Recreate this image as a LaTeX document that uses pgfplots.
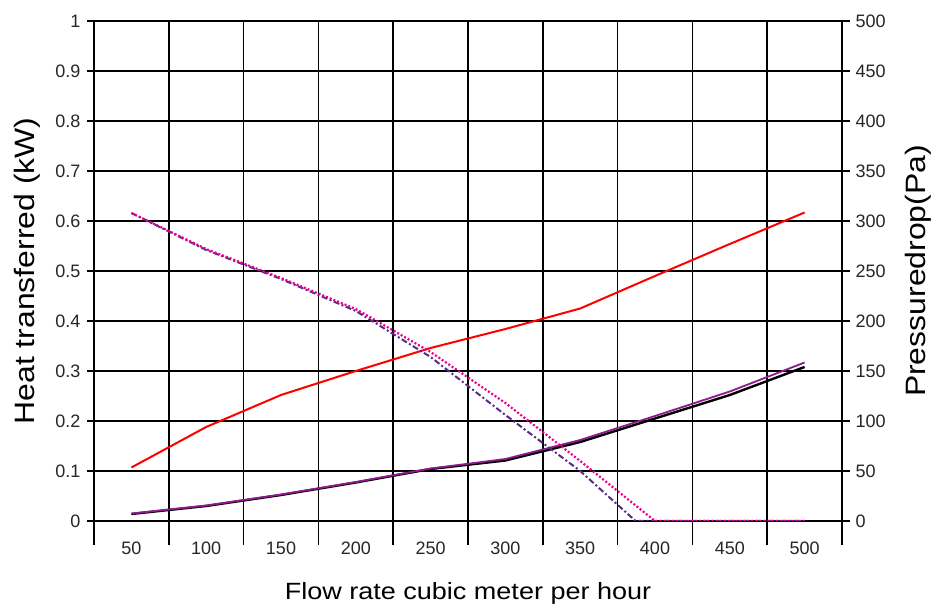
\documentclass[border=0pt]{standalone}
\usepackage{pgfplots}
\pgfplotsset{compat=1.18}
\usepackage{fontspec}
\setmainfont{Liberation Sans}
\definecolor{dashpurple}{HTML}{5B2A86}
\definecolor{solidpurple}{HTML}{8E1A8E}
\begin{document}
\begin{tikzpicture}[x=1pt,y=1pt]
\useasboundingbox (0,0) rectangle (936,609);
\pgfplotsset{
  base/.style={
    scale only axis, width=748pt, height=500pt,
    at={(94pt,88pt)}, anchor=south west,
    xmin=25, xmax=525,
    tick align=outside,
    /pgf/number format/assume math mode=true,
    tick label style={font=\fontsize{18}{20}\selectfont, text=black!85},
    every tick/.style={black, line width=1.5pt},
    axis line style={line width=1.6pt},
  }
}
\begin{axis}[base,
  ymin=0, ymax=1,
  ytick={0,0.1,0.2,0.3,0.4,0.5,0.6,0.7,0.8,0.9,1},
  yticklabel style={/pgf/number format/fixed, /pgf/number format/precision=1, xshift=-3pt},
  ytick pos=left, xtick pos=lower,
  major tick length=7pt,
  xtick={25,75,...,525}, xticklabels={},
  xtick style={/pgfplots/major tick length=24pt},
  extra x ticks={50,100,...,500},
  extra x tick labels={50,100,150,200,250,300,350,400,450,500},
  extra x tick style={grid=none, tick style={draw=none},
    xticklabel style={yshift=-10pt}},
  grid=major, major grid style={black, line width=1.6pt},
  xlabel={\scalebox{1.15}[1]{\fontsize{23.5}{26}\selectfont Flow rate cubic meter per hour}},
  xlabel style={at={(axis description cs:0.5,-0.144)}, anchor=center},
  ylabel={\scalebox{1.14}[1]{\fontsize{28}{30}\selectfont Heat transferred (kW)}},
  ylabel style={at={(axis description cs:-0.0896,0.5)}, anchor=center},
]
\addplot[red, line width=2pt] coordinates {
  (50,0.107) (100,0.188) (150,0.252) (200,0.300) (250,0.346)
  (300,0.384) (350,0.425) (400,0.490) (450,0.554) (500,0.617)
};
\addplot[black, line width=2.4pt] coordinates {
  (50,0.014) (100,0.030) (150,0.052) (200,0.077) (250,0.104)
  (300,0.121) (350,0.158) (400,0.205) (450,0.252) (500,0.308)
};
\addplot[solidpurple, line width=1.8pt] coordinates {
  (50,0.015) (100,0.031) (150,0.053) (200,0.078) (250,0.105)
  (300,0.124) (350,0.162) (400,0.210) (450,0.259) (500,0.317)
};
\end{axis}
\begin{axis}[base,
  ymin=0, ymax=500,
  ytick={0,50,...,500},
  yticklabel style={xshift=2pt},
  axis y line*=right, axis x line=none,
  major tick length=8pt,
  ylabel={\scalebox{1.14}[1]{\fontsize{28}{30}\selectfont Pressuredrop(Pa)}},
  ylabel style={at={(axis description cs:1.1016,0.5)}, anchor=center, rotate=0},
]
\addplot[dashpurple, line width=2pt, dash pattern=on 6pt off 2.5pt on 2pt off 2.5pt] coordinates {
  (50,308) (100,271) (150,242) (200,210) (250,164)
  (300,106) (350,50) (387,0) (400,0) (450,0) (500,0)
};
\addplot[magenta, line width=2.2pt, dash pattern=on 2pt off 2pt] coordinates {
  (50,308) (100,272) (150,243) (200,212) (250,169)
  (300,118) (350,60) (400,0) (450,0) (500,0)
};
\end{axis}
\end{tikzpicture}
\end{document}
